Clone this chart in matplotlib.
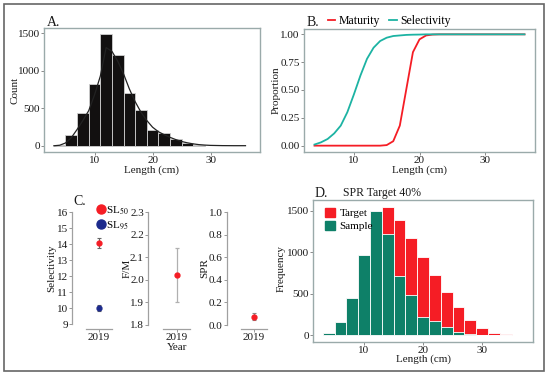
import matplotlib
matplotlib.use("Agg")
import matplotlib.pyplot as plt
from matplotlib.lines import Line2D
from matplotlib.patches import Patch, Rectangle

plt.rcParams['font.family'] = ['Liberation Serif', 'DejaVu Serif']
plt.rcParams['mathtext.fontset'] = 'stix'

# ---------------- data ----------------
# Panel A: length histogram (bin centres, counts) and smoothed line
a_bins = [4, 6, 8, 10, 12, 14, 16, 18, 20, 22, 24, 26, 28]
a_counts = [8, 151, 445, 832, 1495, 1210, 708, 485, 209, 174, 93, 40, 8]
a_line_x = [3, 4, 5, 6, 7, 8, 9, 10, 11, 12, 13, 14, 15, 16, 17, 18, 19, 20,
            21, 22, 23, 24, 25, 26, 27, 28, 29, 30, 32, 34, 36]
a_line_y = [3, 10, 40, 110, 220, 340, 470, 680, 930, 1310, 1260, 1130, 960,
            760, 590, 450, 340, 250, 190, 150, 115, 85, 60, 42, 28, 18, 12, 8,
            5, 4, 4]

# Panel B: maturity and selectivity ogives
b_len = list(range(4, 37))
b_maturity = [0, 0, 0, 0, 0, 0, 0, 0, 0, 0, 0, 0.005, 0.04, 0.18, 0.51, 0.84,
              0.955, 0.99, 0.998, 1, 1, 1, 1, 1, 1, 1, 1, 1, 1, 1, 1, 1, 1]
b_select = [0.01, 0.03, 0.06, 0.11, 0.18, 0.30, 0.46, 0.63, 0.78, 0.88, 0.94,
            0.97, 0.985, 0.99, 0.995, 0.997, 0.998, 1, 1, 1, 1, 1, 1, 1, 1, 1,
            1, 1, 1, 1, 1, 1, 1]

# Panel C: estimates for 2019
c_year = ['2019']
sl50, sl50_lo, sl50_hi = 14.05, 13.75, 14.35
sl95, sl95_lo, sl95_hi = 10.0, 9.8, 10.2
fm, fm_lo, fm_hi = 2.02, 1.90, 2.14
spr, spr_lo, spr_hi = 0.075, 0.045, 0.105

# Panel D: target vs sample frequency
d_bins = [4, 6, 8, 10, 12, 14, 16, 18, 20, 22, 24, 26, 28, 30, 32, 34]
d_target = [20, 153, 446, 965, 1492, 1540, 1387, 1166, 937, 724, 515, 334,
            181, 80, 24, 8]
d_sample = [20, 153, 446, 965, 1492, 1218, 712, 478, 213, 173, 92, 40, 8, 0,
            0, 0]

# ---------------- style ----------------
W, H = 550, 375
fig = plt.figure(figsize=(W / 100, H / 100), dpi=100)

def rect(l, t, r, b):
    return [l / W, 1 - b / H, (r - l) / W, (b - t) / H]

def fx(px):
    return px / W

def fy(py):
    return 1 - py / H

FRAME = '#9aaaaa'
TXT = '#1a1a1a'
TICKFS = 8
LABFS = 8
TITFS = 10
RED = '#f51d25'
TEAL = '#1cb3a3'
GREEN = '#0e8068'

def framed(ax):
    for s in ax.spines.values():
        s.set_color(FRAME)
        s.set_linewidth(1.0)
    ax.tick_params(colors='#777777', labelcolor=TXT, labelsize=TICKFS,
                   length=2, width=0.6, pad=1)

def place_labels(ax, ylab_x, ylab_y, xlab_x=None, xlab_y=None):
    ax.yaxis.set_label_coords(fx(ylab_x), fy(ylab_y), transform=fig.transFigure)
    if xlab_x is not None:
        ax.xaxis.set_label_coords(fx(xlab_x), fy(xlab_y),
                                  transform=fig.transFigure)
    ax.yaxis.label.set_va('center')
    ax.xaxis.label.set_va('center')

# outer border
fig.patches.append(Rectangle((4 / W, 1 - 371 / H), 540 / W, 367 / H,
                             transform=fig.transFigure, fill=False,
                             edgecolor='#666666', linewidth=1.2))

# ---------------- Panel A ----------------
axA = fig.add_axes(rect(44, 28, 260, 152))
axA.bar(a_bins, a_counts, width=2, color='#121010', edgecolor='#d0d0d0',
        linewidth=0.6)
axA.plot(a_line_x, a_line_y, color='#222222', lw=0.9)
axA.set_xlim(1.3, 38.5)
axA.set_ylim(-80, 1571)
axA.set_xticks([10, 20, 30])
axA.set_yticks([0, 500, 1000, 1500])
framed(axA)
axA.set_xlabel('Length (cm)', fontsize=LABFS, color=TXT)
axA.set_ylabel('Count', fontsize=LABFS, color=TXT)
place_labels(axA, 15, 90, 152, 170)
fig.text(fx(47), fy(22), 'A.', fontsize=TITFS, va='center', ha='left',
         color=TXT)

# ---------------- Panel B ----------------
axB = fig.add_axes(rect(304, 29, 535, 152))
axB.plot(b_len, b_maturity, color=RED, lw=1.3, label='Maturity')
axB.plot(b_len, b_select, color=TEAL, lw=1.3, label='Selectivity')
axB.set_xlim(2.4, 37.6)
axB.set_ylim(-0.057, 1.048)
axB.set_xticks([10, 20, 30])
axB.set_yticks([0, 0.25, 0.5, 0.75, 1.0])
axB.set_yticklabels(['0.00', '0.25', '0.50', '0.75', '1.00'])
framed(axB)
axB.set_xlabel('Length (cm)', fontsize=LABFS, color=TXT)
axB.set_ylabel('Proportion', fontsize=LABFS, color=TXT)
place_labels(axB, 276, 90, 420, 170)
axB.legend(loc='center left', bbox_to_anchor=(fx(328), fy(21)),
           bbox_transform=fig.transFigure, ncol=2, frameon=False,
           fontsize=8.5, handlelength=0.6, handletextpad=0.3,
           columnspacing=0.8, borderpad=0, borderaxespad=0)
fig.text(fx(307), fy(22), 'B.', fontsize=TITFS, va='center', ha='left',
         color=TXT)

# ---------------- Panel C ----------------
def capped(ax, ylo, yhi, ylim, xlim=(0.5, 1.5)):
    ax.set_xlim(*xlim)
    ax.set_ylim(*ylim)
    for s in ['top', 'right']:
        ax.spines[s].set_visible(False)
    ax.spines['left'].set_bounds(ylo, yhi)
    ax.spines['bottom'].set_bounds(0.76, 1.24)
    for s in ['left', 'bottom']:
        ax.spines[s].set_color('#a0a0a0')
        ax.spines[s].set_linewidth(0.9)
    ax.patch.set_alpha(0)
    ax.set_xticks([1])
    ax.set_xticklabels(c_year)
    ax.tick_params(colors='#888888', labelcolor=TXT, labelsize=TICKFS,
                   length=2, width=0.6, pad=1)

ax1 = fig.add_axes(rect(72, 205, 126, 329))
ax1.errorbar([1], [sl50], yerr=[[sl50 - sl50_lo], [sl50_hi - sl50]],
             fmt='o', color=RED, ms=3.5, ecolor='#666666', elinewidth=0.8,
             capsize=1.5, capthick=0.8)
ax1.errorbar([1], [sl95], yerr=[[sl95 - sl95_lo], [sl95_hi - sl95]],
             fmt='o', color='#1c2a8c', ms=3.5, ecolor='#666666',
             elinewidth=0.8, capsize=1.5, capthick=0.8)
capped(ax1, 9, 16, (8.69, 16.44))
ax1.set_yticks(range(9, 17))
ax1.set_ylabel('Selectivity', fontsize=LABFS, color=TXT)
place_labels(ax1, 52, 268)
ax1.legend(handles=[Line2D([], [], marker='o', ls='', color=RED, ms=6.5),
                    Line2D([], [], marker='o', ls='', color='#1c2a8c', ms=6.5)],
           labels=['SL$_{50}$', 'SL$_{95}$'], loc='upper left',
           bbox_to_anchor=(fx(97), fy(204)),
           bbox_transform=fig.transFigure, frameon=False, fontsize=8,
           handlelength=0.8, handletextpad=0.05, labelspacing=0.25,
           borderpad=0, borderaxespad=0)
fig.text(fx(73), fy(202), 'C.', fontsize=TITFS, va='center', ha='left',
         color=TXT)

ax2 = fig.add_axes(rect(148, 205, 205, 329))
ax2.errorbar([1], [fm], yerr=[[fm - fm_lo], [fm_hi - fm]], fmt='o',
             color=RED, ms=3.5, ecolor='#b0b0b0', elinewidth=0.9,
             capsize=1.5, capthick=0.9)
capped(ax2, 1.8, 2.3, (1.782, 2.331))
ax2.set_yticks([1.8, 1.9, 2.0, 2.1, 2.2, 2.3])
ax2.set_yticklabels(['1.8', '1.9', '2.0', '2.1', '2.2', '2.3'])
ax2.set_ylabel('F/M', fontsize=LABFS, color=TXT)
ax2.set_xlabel('Year', fontsize=LABFS, color=TXT)
place_labels(ax2, 127, 268, 177, 347)

ax3 = fig.add_axes(rect(227, 205, 281, 329))
ax3.errorbar([1], [spr], yerr=[[spr - spr_lo], [spr_hi - spr]], fmt='o',
             color=RED, ms=3.5, ecolor='#888888', elinewidth=0.8,
             capsize=1.5, capthick=0.8)
capped(ax3, 0, 1.0, (-0.035, 1.062))
ax3.set_yticks([0, 0.2, 0.4, 0.6, 0.8, 1.0])
ax3.set_yticklabels(['0.0', '0.2', '0.4', '0.6', '0.8', '1.0'])
ax3.set_ylabel('SPR', fontsize=LABFS, color=TXT)
place_labels(ax3, 205, 268)

# ---------------- Panel D ----------------
axD = fig.add_axes(rect(313, 200, 533, 342))
axD.bar(d_bins, d_target, width=2, color=RED, edgecolor='white',
        linewidth=0.6, label='Target')
axD.bar(d_bins, d_sample, width=2, color=GREEN, edgecolor='white',
        linewidth=0.6, label='Sample')
axD.set_xlim(1.36, 38.6)
axD.set_ylim(-84, 1629)
axD.set_xticks([10, 20, 30])
axD.set_yticks([0, 500, 1000, 1500])
framed(axD)
axD.set_xlabel('Length (cm)', fontsize=LABFS, color=TXT)
axD.set_ylabel('Frequency', fontsize=LABFS, color=TXT)
place_labels(axD, 281, 268, 423, 359)
axD.legend(handles=[Patch(color=RED), Patch(color=GREEN)],
           labels=['Target', 'Sample'], loc='upper left',
           bbox_to_anchor=(fx(325), fy(208)),
           bbox_transform=fig.transFigure, frameon=False, fontsize=8,
           handlelength=0.9, handleheight=0.9, handletextpad=0.4,
           labelspacing=0.2, borderpad=0, borderaxespad=0)
fig.text(fx(315), fy(193), 'D.', fontsize=TITFS, va='center', ha='left',
         color=TXT)
fig.text(fx(382), fy(193), 'SPR Target 40%', fontsize=8.5, va='center',
         ha='center', color=TXT)

fig.savefig('out.png', dpi=100)
